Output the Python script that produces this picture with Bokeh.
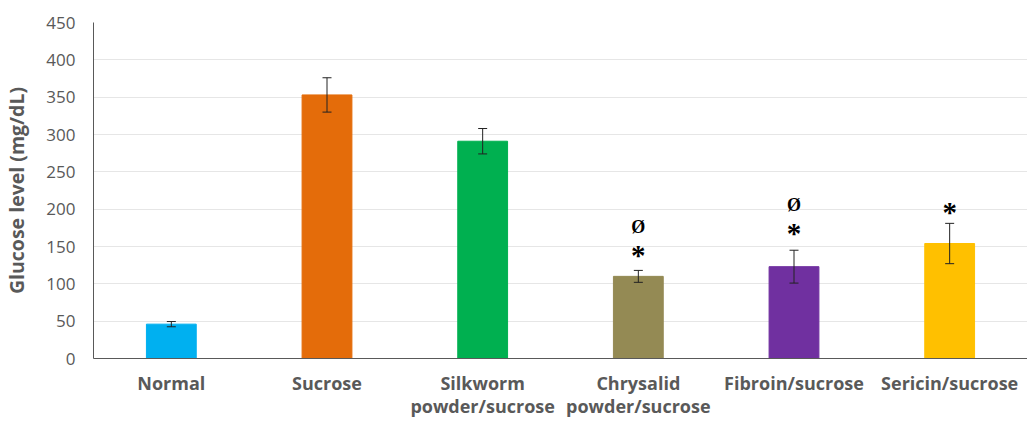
from bokeh.plotting import figure
from bokeh.models import ColumnDataSource, Whisker, TeeHead, FixedTicker, Range1d
from bokeh.core.properties import value
from bokeh.embed import file_html
from bokeh.resources import INLINE

categories = ["Normal", "Sucrose", "Silkworm\npowder/sucrose", "Chrysalid\npowder/sucrose",
              "Fibroin/sucrose", "Sericin/sucrose"]
glucose = [46, 353, 291, 110, 123, 154]
errors = [3.5, 23, 17, 8, 22, 27]
colors = ["#00B0F0", "#E46C0A", "#00B050", "#948A54", "#7030A0", "#FFC000"]

annot_x = [3, 3, 4, 4, 5]
annot_y = [176, 139, 205, 168, 196]
annot_text = ["Ø", "*", "Ø", "*", "*"]
annot_size = ["18px", "29px", "18px", "29px", "29px"]

xs = list(range(len(categories)))
src = ColumnDataSource(dict(
    x=xs, top=glucose, color=colors,
    upper=[g + e for g, e in zip(glucose, errors)],
    lower=[g - e for g, e in zip(glucose, errors)],
))

p = figure(width=1027, height=421, output_backend="svg", toolbar_location=None,
           x_range=Range1d(-0.5, 5.5), y_range=Range1d(0, 450),
           min_border_left=92, min_border_right=0, min_border_top=22, min_border_bottom=61)
p.outline_line_color = None
p.background_fill_color = "white"

p.vbar(x="x", top="top", width=0.32, color="color", source=src)

w = Whisker(base="x", upper="upper", lower="lower", source=src,
            line_color="#222222", line_width=1, level="overlay",
            upper_head=TeeHead(size=9, line_color="#222222", line_width=1),
            lower_head=TeeHead(size=9, line_color="#222222", line_width=1))
p.add_layout(w)

asrc = ColumnDataSource(dict(x=annot_x, y=annot_y, t=annot_text, s=annot_size))
p.text(x="x", y="y", text="t", source=asrc, text_font=value("Liberation Serif"),
       text_font_style="bold", text_font_size="s", text_align="center",
       text_baseline="middle", text_color="black")

p.xaxis.ticker = FixedTicker(ticks=xs)
p.xaxis.major_label_overrides = {i: c for i, c in enumerate(categories)}
p.xaxis.major_tick_line_color = None
p.xaxis.minor_tick_line_color = None
p.xaxis.axis_line_color = "#595959"
p.xaxis.axis_line_width = 1.2
p.xaxis.major_label_text_font = "Open Sans"
p.xaxis.major_label_text_font_style = "bold"
p.xaxis.major_label_text_font_size = "18px"
p.xaxis.major_label_text_color = "#595959"
p.xaxis.major_label_text_line_height = 0.98
p.xaxis.major_label_standoff = 6
p.xgrid.grid_line_color = None

p.yaxis.ticker = FixedTicker(ticks=list(range(0, 451, 50)))
p.yaxis.major_tick_line_color = None
p.yaxis.minor_tick_line_color = None
p.yaxis.axis_line_color = "#595959"
p.yaxis.major_label_text_font = "Open Sans"
p.yaxis.major_label_text_font_size = "17px"
p.yaxis.major_label_text_color = "#595959"
p.yaxis.major_label_standoff = 12
p.yaxis.axis_label = "Glucose level (mg/dL)"
p.yaxis.axis_label_text_font = "Open Sans"
p.yaxis.axis_label_text_font_style = "bold"
p.yaxis.axis_label_text_font_size = "19.5px"
p.yaxis.axis_label_text_color = "#595959"
p.yaxis.axis_label_standoff = 13
p.ygrid.grid_line_color = "#E6E6E6"

open("out.html", "w").write(file_html(p, INLINE))
